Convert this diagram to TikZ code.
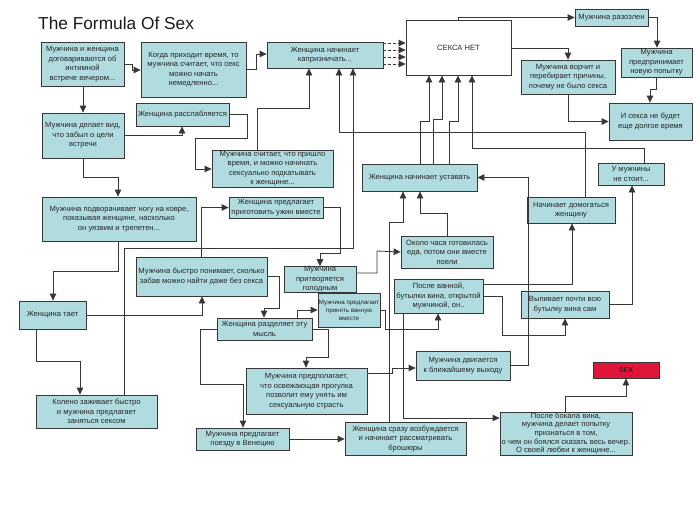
\documentclass[tikz,border=0pt]{standalone}
\usepackage{fontspec}
\setmainfont{Liberation Sans}
\usetikzlibrary{arrows.meta}
\definecolor{boxc}{RGB}{176,220,224}
\definecolor{linec}{RGB}{55,55,55}
\definecolor{sexred}{RGB}{222,22,58}
\newcommand{\bx}[7][]{\node[box,minimum width={#5-#3},minimum height={#6-#4},#1] (#2) at ({(#3+#5)/2},{(#4+#6)/2}) {#7};}
\begin{document}
\begin{tikzpicture}[x=1pt,y=-1pt,
 box/.style={draw=linec, line width=0.8pt, fill=boxc, align=center, inner sep=0pt, font=\fontsize{7.6}{9.5}\selectfont, text=black!85},
 arr/.style={draw=linec, line width=0.8pt, -{Triangle[length=7pt,width=6.5pt]}},
]
\useasboundingbox (0,0) rectangle (700,525);
\node[anchor=base west, inner sep=0pt, font=\fontsize{17.3}{21}\selectfont, text=black!90] (title) at (38,29) {The Formula Of Sex};

\bx{b1}{41}{42}{124}{86}{Мужчина и женщина\\договариваются об\\интимной\\встрече вечером...}
\bx{b2}{141}{42}{246}{97}{Когда приходит время, то\\мужчина считает, что секс\\можно начать\\немедленно...}
\bx{b3}{267}{42}{383}{68}{Женщина начинает\\капризничать...}
\bx[fill=white]{b4}{406}{20}{511}{75}{СЕКСА НЕТ}
\bx{b5}{575}{9}{648}{26}{Мужчина разозлен}
\bx{b6}{621}{48}{692}{77}{Мужчина\\предпринимает\\новую попытку}
\bx{b7}{521}{60}{615}{94}{Мужчина ворчит и\\перебирает причины,\\почему не было секса}
\bx{b8}{609}{103}{692}{140}{И секса не будет\\еще долгое время}
\bx{b9}{136}{103}{229}{126}{Женщина расслабляется}
\bx{b10}{42}{113}{124}{158}{Мужчина делает вид,\\что забыл о цели\\встречи}
\bx{b11}{212}{150}{333}{187}{Мужчина считает, что пришло\\время, и можно начинать\\сексуально подкатывать\\к женщине...}
\bx{b12}{362}{164}{477}{191}{Женщина начинает уставать}
\bx{b13}{598}{163}{664}{185}{У мужчины\\не стоит...}
\bx{b14}{527}{197}{615}{223}{Начинает домогаться\\женщину}
\bx{b15}{42}{197}{196}{241}{Мужчина подворачивает ногу на ковре,\\показывая женщине, насколько\\он уязвим и трепетен...}
\bx{b16}{229}{197}{323}{218}{Женщина предлагает\\приготовить ужин вместе}
\bx{b17}{401}{236}{493}{268}{Около часа готовилась\\еда, потом они вместе\\поели}
\bx{b18}{136}{257}{267}{296}{Мужчина быстро понимает, сколько\\забав можно найти даже без секса}
\bx{b19}{284}{267}{356}{292}{Мужчина\\притворяется\\голодным}
\bx[font=\fontsize{6.2}{8}\selectfont]{b20}{318}{293}{380}{327}{Мужчина предлагает\\принять ванную\\вместе}
\bx{b21}{394}{279}{483}{313}{После ванной,\\бутылки вина, открытой\\мужчиной, он..}
\bx{b22}{521}{291}{609}{318}{Выпивает почти всю\\бутылку вина сам}
\bx{b23}{19}{301}{86}{329}{Женщина тает}
\bx{b24}{217}{318}{312}{340}{Женщина разделяет эту\\мысль}
\bx{b25}{246}{368}{367}{414}{Мужчина предполагает,\\что освежающая прогулка\\позволит ему унять им\\сексуальную страсть}
\bx{b26}{416}{351}{510}{380}{Мужчина двигается\\к ближайшему выходу}
\bx[fill=sexred, font=\fontsize{7}{8}\selectfont\bfseries]{b27}{593}{362}{659}{378}{SEX}
\bx{b28}{36}{395}{157}{428}{Колено заживает быстро\\и мужчина предлагает\\заняться сексом}
\bx{b29}{196}{428}{289}{450}{Мужчина предлагает\\поезду в Венецию}
\bx{b30}{345}{422}{466}{455}{Женщина сразу возбуждается\\и начинает рассматривать\\брошюры}
\bx[font=\fontsize{7.6}{8.6}\selectfont]{b31}{500}{412}{632}{455}{После бокала вина,\\мужчина делает попытку\\признаться в том,\\о чем он боялся сказать весь вечер.\\О своей любви к женщине...}

% connectors
\draw[arr] (b1.east) -| (132,70) -- (b2.west |- 0,70);
\draw[arr] (b1.south -| 83,0) -- (b10.north -| 83,0);
\draw[arr] (b10.east) -| (b9.south -| 182,0);
\draw[arr] (b10.south) |- (118,177) -- (b15.north -| 118,0);
\draw[arr] (b9.east) -| (247,138) -| (195,169) -- (b11.west |- 0,169);
\draw[arr] (b2.east) -| (256,54) -- (b3.west |- 0,54);
\foreach \yy in {43,50,57,64} \draw[arr, dash pattern=on 3pt off 2pt] (b3.east |- 0,\yy) -- (b4.west |- 0,\yy);
\draw[arr] (b11.north -| 257,0) |- (309,108) -- (b3.south -| 309,0);
\draw[arr] (b14.north -| 585,0) |- (339,132) -- (b3.south -| 339,0);
\draw[arr] (b28.north -| 124,0) |- (353,248) -- (b3.south -| 353,0);
\draw[arr] (b12.north -| 420,0) |- (429,121) -- (b4.south -| 429,0);
\draw[arr] (b12.north -| 433,0) |- (442,119) -- (b4.south -| 442,0);
\draw[arr] (b12.north -| 449,0) |- (458,121) -- (b4.south -| 458,0);
\draw[arr] (b13.north -| 644,0) |- (472,148) -- (b4.south -| 472,0);
\draw[arr] (b4.north -| 458,0) |- (b5.west);
\draw[arr] (b4.east |- 0,48) -| (b7.north -| 568,0);
\draw[arr] (b5.east) -| (b6.north -| 657,0);
\draw[arr] (b6.south -| 656,0) |- (650,89) -- (b8.north -| 650,0);
\draw[arr] (b7.south -| 568,0) |- (b8.west);
\draw[arr] (b26.east) -| (528,177.5) -- (b12.east);
\draw[arr] (b17.north -| 447,0) |- (420,213) -- (b12.south -| 420,0);
\draw[arr] (b30.north -| 389,0) |- (403,222) -- (b12.south -| 403,0);
\draw[arr] (b21.south -| 403,0) |- (b31.west |- 0,418);
\draw[arr] (b31.north -| 565,0) |- (626,396) -- (b27.south -| 626,0);
\draw[arr] (b21.east |- 0,296) -| (502,335) -| (b22.south -| 565,0);
\draw[arr] (b21.east |- 0,284) -| (b14.south -| 572,0);
\draw[arr] (b22.east) -| (b13.south -| 632,0);
\draw[arr] (b15.south -| 118,0) |- (53,271) -- (b23.north -| 53,0);
\draw[arr] (b23.east) -| (b18.south -| 202,0);
\draw[arr] (b23.south -| 36,0) |- (80,361) -- (b28.north -| 80,0);
\draw[arr] (b18.north -| 201,0) |- (b16.west);
\draw[arr] (b16.east) -| (340,253) -| (b19.north -| 320,0);
\draw[arr] (b18.east) -| (279,308) -| (b24.north -| 264,0);
\draw[arr] (b24.north -| 297,0) |- (b20.west);
\draw[arr] (b24.east) -| (328,357) -| (b25.north -| 306,0);
\draw[arr] (b24.west) -| (200,384) -| (b29.north -| 243,0);
\draw[arr] (b29.east) -- (b30.west |- b29.east);
\draw[arr] (b25.east |- 0,373) -| (392,368) -- (b26.west |- 0,368);
\draw[arr] (b19.east |- 0,273) -| (377,251) -- (b17.west);
\draw[arr] (b20.east) -| (385,329) -| (b21.south -| 438,0);
\end{tikzpicture}
\end{document}
